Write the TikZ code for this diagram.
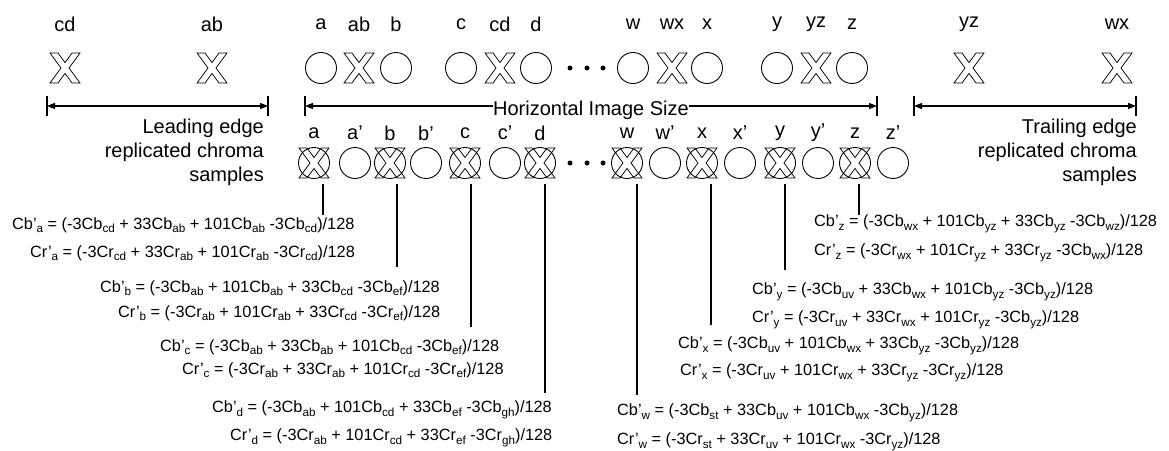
\documentclass[tikz,border=0pt]{standalone}
\usepackage{fontspec}
\setmainfont{Liberation Sans}
\usetikzlibrary{arrows.meta}
\newcommand\sbx[1]{\raisebox{-3.5pt}{\fontsize{11.7}{12}\selectfont #1}}
\tikzset{
  circ/.style={circle, draw, line width=0.9pt, minimum size=31pt, inner sep=0pt},
  xbox/.style={inner sep=0pt, minimum size=30pt},
  dotn/.style={circle, fill, inner sep=0pt, minimum size=5pt},
  lab/.style={font=\fontsize{20}{24}\selectfont, inner sep=0pt},
  fml/.style={font=\fontsize{16.3}{19}\selectfont, inner sep=0pt, anchor=west},
  dim/.style={line width=1.1pt, {Triangle[length=8pt,width=6pt]}-{Triangle[length=8pt,width=6pt]}},
  dimr/.style={line width=1.1pt, -{Triangle[length=8pt,width=6pt]}},
  tickl/.style={line width=1.1pt},
  lead/.style={line width=1.1pt},
  xmark/.pic={\draw[line width=0.75pt, line join=miter]
     (-15,-15) -- (-7,-15) -- (0,-5.45) -- (7,-15) -- (15,-15) -- (4,0) --
     (15,15) -- (7,15) -- (0,5.45) -- (-7,15) -- (-15,15) -- (-4,0) -- cycle;}
}
\begin{document}
\begin{tikzpicture}[x=1pt,y=-1pt]
\useasboundingbox (0,0) rectangle (1169,450);
% ---------- top row ----------
\node[xbox] (t1) at (65,68) {};   \pic at (t1) {xmark};
\node[xbox] (t2) at (212,68) {};  \pic at (t2) {xmark};
\node[circ] (t3) at (321,68) {};
\node[xbox] (t4) at (359,68) {};  \pic at (t4) {xmark};
\node[circ] (t5) at (396,68) {};
\node[circ] (t6) at (461,68) {};
\node[xbox] (t7) at (500,68) {};  \pic at (t7) {xmark};
\node[circ] (t8) at (536,68) {};
\node[dotn] (td1) at (570,68) {};
\node[dotn] (td2) at (587,68) {};
\node[dotn] (td3) at (603,68) {};
\node[circ] (t9) at (633,68) {};
\node[xbox] (t10) at (672,68) {}; \pic at (t10) {xmark};
\node[circ] (t11) at (707,68) {};
\node[circ] (t12) at (777,68) {};
\node[xbox] (t13) at (816,68) {}; \pic at (t13) {xmark};
\node[circ] (t14) at (852,68) {};
\node[xbox] (t15) at (969,68) {}; \pic at (t15) {xmark};
\node[xbox] (t16) at (1117,68) {}; \pic at (t16) {xmark};
% top labels
\node[lab] (tl1) at (65,24) {cd};
\node[lab] (tl2) at (212,24) {ab};
\node[lab] (tl3) at (321,24) {a};
\node[lab] (tl4) at (359,24) {ab};
\node[lab] (tl5) at (396,24) {b};
\node[lab] (tl6) at (461,24) {c};
\node[lab] (tl7) at (500,24) {cd};
\node[lab] (tl8) at (536,24) {d};
\node[lab] (tl9) at (633,24) {w};
\node[lab] (tl10) at (672,24) {wx};
\node[lab] (tl11) at (707,24) {x};
\node[lab] (tl12) at (777,24) {y};
\node[lab] (tl13) at (816,24) {yz};
\node[lab] (tl14) at (852,24) {z};
\node[lab] (tl15) at (969,24) {yz};
\node[lab] (tl16) at (1117,24) {wx};
% ---------- dimension lines ----------
\coordinate (L1) at (47,106);  \coordinate (L2) at (268,106);
\draw[dim] (L1) -- (L2);
\draw[tickl] ([yshift=10pt]L1) -- ([yshift=-10pt]L1);
\draw[tickl] ([yshift=10pt]L2) -- ([yshift=-10pt]L2);
\node[lab] (his) at (591,110) {Horizontal Image Size};
\coordinate (H1) at (305,106);  \coordinate (H2) at (877,106);
\draw[dimr] (his.west |- H1) -- (H1);
\draw[dimr] (his.east |- H2) -- (H2);
\draw[tickl] ([yshift=10pt]H1) -- ([yshift=-10pt]H1);
\draw[tickl] ([yshift=10pt]H2) -- ([yshift=-10pt]H2);
\coordinate (R1) at (914,106);  \coordinate (R2) at (1136,106);
\draw[dim] (R1) -- (R2);
\draw[tickl] ([yshift=10pt]R1) -- ([yshift=-10pt]R1);
\draw[tickl] ([yshift=10pt]R2) -- ([yshift=-10pt]R2);
\node[lab, align=right, anchor=east] (lead) at (264,152) {Leading edge\\replicated chroma\\samples};
\node[lab, align=right, anchor=east] (trail) at (1137,152) {Trailing edge\\replicated chroma\\samples};
% ---------- bottom row ----------
\node[circ] (ba) at (314,163) {};  \pic at (ba) {xmark};
\node[circ] (bap) at (355,163) {};
\node[circ] (bb) at (390,163) {};  \pic at (bb) {xmark};
\node[circ] (bbp) at (426,163) {};
\node[circ] (bc) at (465,163) {};  \pic at (bc) {xmark};
\node[circ] (bcp) at (505,163) {};
\node[circ] (bd) at (540,163) {};  \pic at (bd) {xmark};
\node[dotn] (bd1) at (570,163) {};
\node[dotn] (bd2) at (587,163) {};
\node[dotn] (bd3) at (603,163) {};
\node[circ] (bw) at (627,163) {};  \pic at (bw) {xmark};
\node[circ] (bwp) at (665,163) {};
\node[circ] (bx) at (702,163) {};  \pic at (bx) {xmark};
\node[circ] (bxp) at (740,163) {};
\node[circ] (by) at (780,163) {};  \pic at (by) {xmark};
\node[circ] (byp) at (818,163) {};
\node[circ] (bz) at (855,163) {};  \pic at (bz) {xmark};
\node[circ] (bzp) at (893,163) {};
% bottom labels
\node[lab] (bl1) at (314,133) {a};
\node[lab] (bl2) at (355,133) {a’};
\node[lab] (bl3) at (390,133) {b};
\node[lab] (bl4) at (426,133) {b’};
\node[lab] (bl5) at (465,133) {c};
\node[lab] (bl6) at (505,133) {c’};
\node[lab] (bl7) at (540,133) {d};
\node[lab] (bl8) at (627,133) {w};
\node[lab] (bl9) at (665,133) {w’};
\node[lab] (bl10) at (702,133) {x};
\node[lab] (bl11) at (740,133) {x’};
\node[lab] (bl12) at (780,133) {y};
\node[lab] (bl13) at (818,133) {y’};
\node[lab] (bl14) at (855,133) {z};
\node[lab] (bl15) at (893,133) {z’};
% ---------- formulas ----------
\node[fml] (fa1) at (12,225) {Cb’\sbx{a} = (-3Cb\sbx{cd} + 33Cb\sbx{ab} + 101Cb\sbx{ab} -3Cb\sbx{cd})/128};
\node[fml] (fa2) at (30,253) {Cr’\sbx{a} = (-3Cr\sbx{cd} + 33Cr\sbx{ab} + 101Cr\sbx{ab} -3Cr\sbx{cd})/128};
\node[fml] (fb1) at (100,288) {Cb’\sbx{b} = (-3Cb\sbx{ab} + 101Cb\sbx{ab} + 33Cb\sbx{cd} -3Cb\sbx{ef})/128};
\node[fml] (fb2) at (118,313) {Cr’\sbx{b} = (-3Cr\sbx{ab} + 101Cr\sbx{ab} + 33Cr\sbx{cd} -3Cr\sbx{ef})/128};
\node[fml] (fc1) at (160,347) {Cb’\sbx{c} = (-3Cb\sbx{ab} + 33Cb\sbx{ab} + 101Cb\sbx{cd} -3Cb\sbx{ef})/128};
\node[fml] (fc2) at (182,370) {Cr’\sbx{c} = (-3Cr\sbx{ab} + 33Cr\sbx{ab} + 101Cr\sbx{cd} -3Cr\sbx{ef})/128};
\node[fml] (fd1) at (212,410) {Cb’\sbx{d} = (-3Cb\sbx{ab} + 101Cb\sbx{cd} + 33Cb\sbx{ef} -3Cb\sbx{gh})/128};
\node[fml] (fd2) at (230,438) {Cr’\sbx{d} = (-3Cr\sbx{ab} + 101Cr\sbx{cd} + 33Cr\sbx{ef} -3Cr\sbx{gh})/128};
\node[fml] (fz1) at (814,224) {Cb’\sbx{z} = (-3Cb\sbx{wx} + 101Cb\sbx{yz} + 33Cb\sbx{yz} -3Cb\sbx{wz})/128};
\node[fml] (fz2) at (814,253) {Cr’\sbx{z} = (-3Cr\sbx{wx} + 101Cr\sbx{yz} + 33Cr\sbx{yz} -3Cb\sbx{wx})/128};
\node[fml] (fy1) at (752,292) {Cb’\sbx{y} = (-3Cb\sbx{uv} + 33Cb\sbx{wx} + 101Cb\sbx{yz} -3Cb\sbx{yz})/128};
\node[fml] (fy2) at (752,320) {Cr’\sbx{y} = (-3Cr\sbx{uv} + 33Cr\sbx{wx} + 101Cr\sbx{yz} -3Cb\sbx{yz})/128};
\node[fml] (fx1) at (678,346) {Cb’\sbx{x} = (-3Cb\sbx{uv} + 101Cb\sbx{wx} + 33Cb\sbx{yz} -3Cb\sbx{yz})/128};
\node[fml] (fx2) at (680,373) {Cr’\sbx{x} = (-3Cr\sbx{uv} + 101Cr\sbx{wx} + 33Cr\sbx{yz} -3Cr\sbx{yz})/128};
\node[fml] (fw1) at (617,413) {Cb’\sbx{w} = (-3Cb\sbx{st} + 33Cb\sbx{uv} + 101Cb\sbx{wx} -3Cb\sbx{yz})/128};
\node[fml] (fw2) at (617,442) {Cr’\sbx{w} = (-3Cr\sbx{st} + 33Cr\sbx{uv} + 101Cr\sbx{wx} -3Cr\sbx{yz})/128};
% ---------- leader lines ----------
\coordinate (ea) at (323,215);
\coordinate (eb) at (397,267);
\coordinate (ec) at (471,327);
\coordinate (ed) at (545,393);
\coordinate (ew) at (637,395);
\coordinate (ex) at (711,325);
\coordinate (ey) at (785,270);
\coordinate (ez) at (859,215);
\draw[lead] ([yshift=-5pt]ba.south -| ea) -- (ea);
\draw[lead] ([yshift=-5pt]bb.south -| eb) -- (eb);
\draw[lead] ([yshift=-5pt]bc.south -| ec) -- (ec);
\draw[lead] ([yshift=-5pt]bd.south -| ed) -- (ed);
\draw[lead] ([yshift=-5pt]bw.south -| ew) -- (ew);
\draw[lead] ([yshift=-5pt]bx.south -| ex) -- (ex);
\draw[lead] ([yshift=-5pt]by.south -| ey) -- (ey);
\draw[lead] ([yshift=-5pt]bz.south -| ez) -- (ez);
\end{tikzpicture}
\end{document}
